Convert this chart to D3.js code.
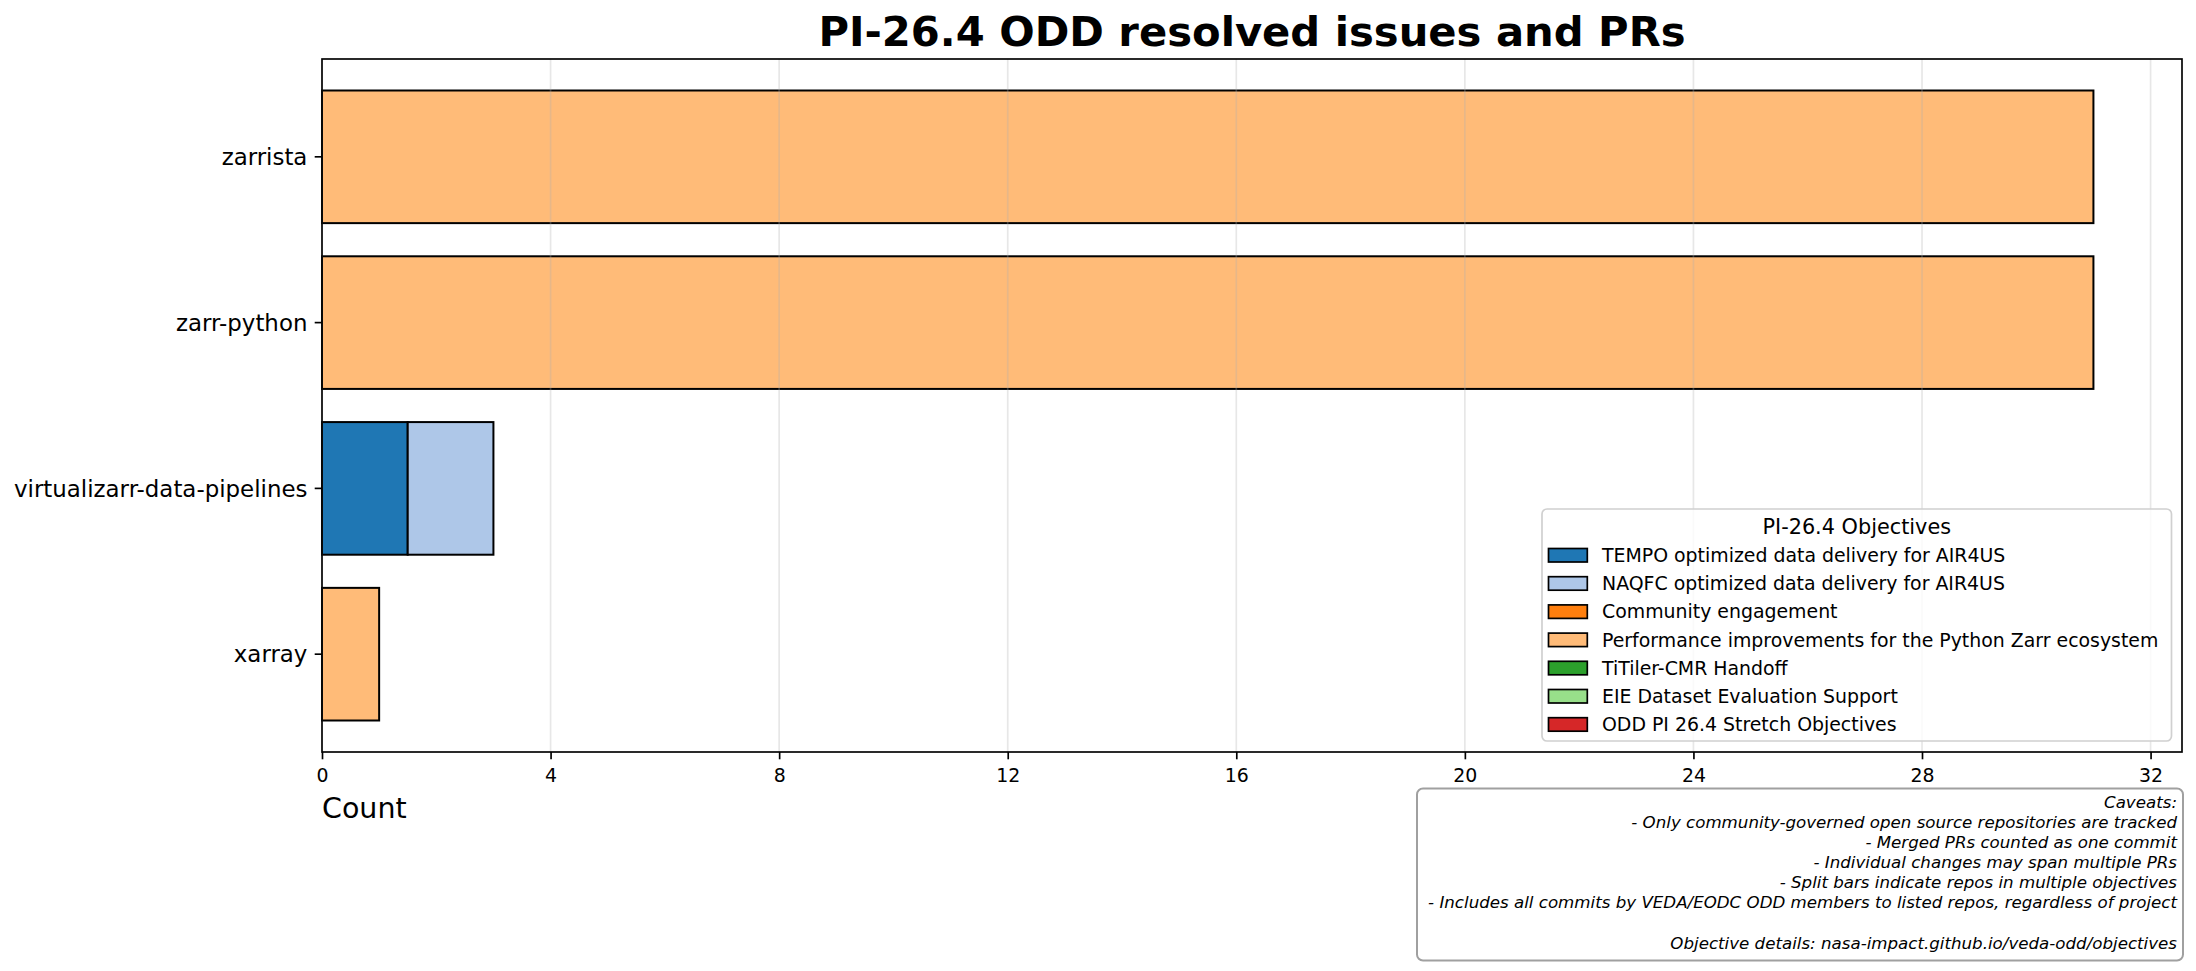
<!DOCTYPE html>
<html>
<head>
<meta charset="utf-8">
<script src="https://cdn.jsdelivr.net/npm/d3@7"></script>
<style>
  body { margin: 0; background: #fff; }
  text { font-family: "DejaVu Sans", sans-serif; }
</style>
</head>
<body>
<script>
// repos, top to bottom
var repos = ["zarrista", "zarr-python", "virtualizarr-data-pipelines", "xarray"];

// objectives (legend order) and their colours
var objectives = [
    "TEMPO optimized data delivery for AIR4US",
    "NAQFC optimized data delivery for AIR4US",
    "Community engagement",
    "Performance improvements for the Python Zarr ecosystem",
    "TiTiler-CMR Handoff",
    "EIE Dataset Evaluation Support",
    "ODD PI 26.4 Stretch Objectives"
];
var objectiveColors = ["#1f77b4", "#aec7e8", "#ff7f0e", "#ffbb78", "#2ca02c", "#98df8a", "#d62728"];

// counts per repo, one array per objective (same order as repos)
var tempoCounts       = [0, 0, 1.5, 0];
var naqfcCounts       = [0, 0, 1.5, 0];
var communityCounts   = [0, 0, 0, 0];
var performanceCounts = [31, 31, 0, 1];
var titilerCounts     = [0, 0, 0, 0];
var eieCounts         = [0, 0, 0, 0];
var stretchCounts     = [0, 0, 0, 0];

var xTicks = [0, 4, 8, 12, 16, 20, 24, 28, 32];

var title = "PI-26.4 ODD resolved issues and PRs";
var xLabel = "Count";
var legendTitle = "PI-26.4 Objectives";
var caveatLines = [
    "Caveats:",
    "- Only community-governed open source repositories are tracked",
    "- Merged PRs counted as one commit",
    "- Individual changes may span multiple PRs",
    "- Split bars indicate repos in multiple objectives",
    "- Includes all commits by VEDA/EODC ODD members to listed repos, regardless of project",
    "",
    "Objective details: nasa-impact.github.io/veda-odd/objectives"
];

var seriesCounts = [tempoCounts, naqfcCounts, communityCounts, performanceCounts,
                    titilerCounts, eieCounts, stretchCounts];

var rows = repos.map(function(r, i) {
    var row = {repo: r};
    objectives.forEach(function(o, k) { row[o] = seriesCounts[k][i]; });
    return row;
});

var W = 2196, H = 971;
var plot = {left: 322, right: 2182, top: 59, bottom: 752};

var totals = rows.map(function(d) { return d3.sum(objectives, function(o) { return d[o]; }); });
var xmax = d3.max(totals) * 1.05;

var x = d3.scaleLinear().domain([0, xmax]).range([plot.left, plot.right]);
var y = d3.scaleBand().domain(repos).range([plot.top, plot.bottom])
    .paddingInner(0.2).paddingOuter(0.19);

var svg = d3.select("body").append("svg")
    .attr("width", W).attr("height", H);

// bars
var stacked = d3.stack().keys(objectives)(rows);
var layers = svg.append("g").selectAll("g")
    .data(stacked)
    .enter().append("g")
        .attr("fill", function(d, i) { return objectiveColors[i]; });

layers.selectAll("rect")
    .data(function(d) { return d.filter(function(s) { return s[1] - s[0] > 0; }); })
    .enter().append("rect")
        .attr("x", function(d) { return x(d[0]); })
        .attr("width", function(d) { return x(d[1]) - x(d[0]); })
        .attr("y", function(d) { return y(d.data.repo); })
        .attr("height", y.bandwidth())
        .attr("stroke", "#000")
        .attr("stroke-width", 2);

// vertical grid
svg.append("g").selectAll("line")
    .data(xTicks)
    .enter().append("line")
        .attr("x1", function(d) { return x(d); })
        .attr("x2", function(d) { return x(d); })
        .attr("y1", plot.top).attr("y2", plot.bottom)
        .attr("stroke", "#b0b0b0")
        .attr("stroke-opacity", 0.3)
        .attr("stroke-width", 1.7);

// axes
var xAxis = d3.axisBottom(x).tickValues(xTicks).tickSize(7.3).tickFormat(d3.format("d"));
var gx = svg.append("g")
    .attr("transform", "translate(0," + plot.bottom + ")")
    .call(xAxis);
gx.select(".domain").remove();
gx.selectAll(".tick line").attr("stroke", "#000").attr("stroke-width", 1.67);
gx.selectAll(".tick text")
    .attr("y", 30).attr("dy", null)
    .attr("fill", "#000")
    .style("font-size", "18.9px")
    .style("font-family", "DejaVu Sans");

var yAxis = d3.axisLeft(y).tickSize(7.3).tickPadding(7.3);
var gy = svg.append("g")
    .attr("transform", "translate(" + plot.left + ",0)")
    .call(yAxis);
gy.select(".domain").remove();
gy.selectAll(".tick line").attr("stroke", "#000").attr("stroke-width", 1.67);
gy.selectAll(".tick text")
    .attr("dy", "0.36em")
    .attr("fill", "#000")
    .style("font-size", "22.9px")
    .style("font-family", "DejaVu Sans");

// spines
svg.append("rect")
    .attr("x", plot.left).attr("y", plot.top)
    .attr("width", plot.right - plot.left)
    .attr("height", plot.bottom - plot.top)
    .attr("fill", "none")
    .attr("stroke", "#000")
    .attr("stroke-width", 1.67);

// title and x label
svg.append("text")
    .attr("x", (plot.left + plot.right) / 2)
    .attr("y", 46)
    .style("text-anchor", "middle")
    .style("font-size", "41.7px")
    .style("font-weight", "bold")
    .text(title);

svg.append("text")
    .attr("x", plot.left)
    .attr("y", 818)
    .style("font-size", "28.5px")
    .text(xLabel);

// legend, lower right inside the axes
var lg = svg.append("g");
var lx = 1542, ly = 509, lw = 629.5, lh = 232;
lg.append("rect")
    .attr("x", lx).attr("y", ly)
    .attr("width", lw).attr("height", lh)
    .attr("rx", 5)
    .attr("fill", "#fff").attr("fill-opacity", 0.8)
    .attr("stroke", "#d0d0d0").attr("stroke-width", 1.7);

lg.append("text")
    .attr("x", lx + lw / 2)
    .attr("y", 534)
    .style("text-anchor", "middle")
    .style("font-size", "20.8px")
    .text(legendTitle);

var entries = lg.selectAll("g.entry")
    .data(objectives)
    .enter().append("g")
        .attr("class", "entry")
        .attr("transform", function(d, i) { return "translate(0," + (562 + i * 28.2) + ")"; });

entries.append("rect")
    .attr("x", 1548.5).attr("y", -13.5)
    .attr("width", 38.8).attr("height", 13.5)
    .attr("fill", function(d, i) { return objectiveColors[i]; })
    .attr("stroke", "#000").attr("stroke-width", 1.7);

entries.append("text")
    .attr("x", 1602)
    .attr("y", 0)
    .style("font-size", "18.9px")
    .text(function(d) { return d; });

// caveats box below the axes
var cb = svg.append("g");
cb.append("rect")
    .attr("x", 1417).attr("y", 788.5)
    .attr("width", 766).attr("height", 172)
    .attr("rx", 6)
    .attr("fill", "#fff")
    .attr("stroke", "#a0a0a0").attr("stroke-width", 2);

cb.selectAll("text")
    .data(caveatLines)
    .enter().append("text")
        .attr("x", 2177)
        .attr("y", function(d, i) { return 807.5 + i * 20.15; })
        .style("text-anchor", "end")
        .style("font-size", "16.67px")
        .style("font-style", "italic")
        .text(function(d) { return d; });
</script>
</body>
</html>
